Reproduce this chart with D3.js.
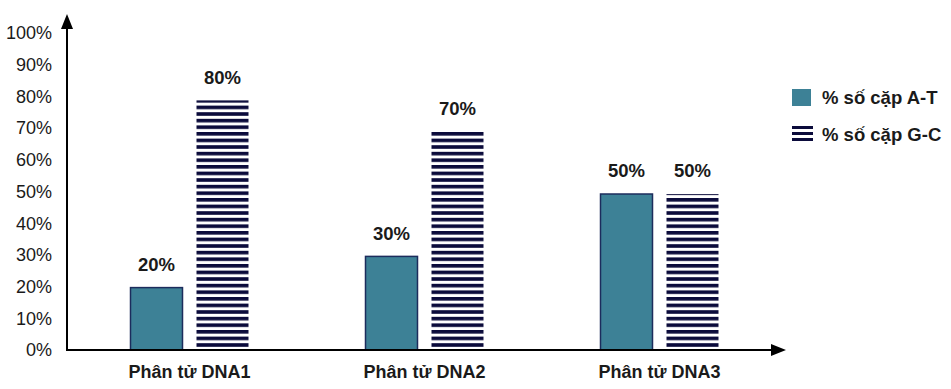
<!DOCTYPE html>
<html>
<head>
<meta charset="utf-8">
<script src="https://cdn.jsdelivr.net/npm/d3@7"></script>
<style>
  body { margin: 0; background: #fff; }
  svg { display: block; font-family: "Liberation Sans", Arial, sans-serif; }
</style>
</head>
<body>
<div id="chart"></div>
<script>
// dữ liệu
const categories = ['Phân tử DNA1', 'Phân tử DNA2', 'Phân tử DNA3'];
const seriesNames = ['% số cặp A-T', '% số cặp G-C'];
const atValues = [20, 30, 50];
const gcValues = [80, 70, 50];
const yTicks = [0, 10, 20, 30, 40, 50, 60, 70, 80, 90, 100];

const width = 951, height = 389;
const teal = '#3d8196';
const navy = '#0b0b3b';

const svg = d3.select('#chart').append('svg')
    .attr('width', width)
    .attr('height', height);

const defs = svg.append('defs');
const pat = defs.append('pattern')
    .attr('id', 'stripes')
    .attr('patternUnits', 'userSpaceOnUse')
    .attr('width', 10)
    .attr('height', 6.6);
pat.append('rect').attr('width', 10).attr('height', 6.6).attr('fill', '#fff');
pat.append('rect').attr('y', 0).attr('width', 10).attr('height', 3.6).attr('fill', navy);

const x0 = d3.scaleBand().domain(categories).range([72, 777]);
const x1 = d3.scaleBand().domain(seriesNames).range([x0.bandwidth() / 2 - 59, x0.bandwidth() / 2 + 59]).paddingInner(0.212);
const y = d3.scaleLinear().domain([0, 100]).range([350, 38]);
const yLabel = d3.scaleLinear().domain([0, 100]).range([350, 33]);

// nhãn trục tung
svg.append('g').selectAll('text')
    .data(yTicks)
    .join('text')
    .attr('x', 52)
    .attr('y', d => yLabel(d))
    .attr('dy', '0.35em')
    .attr('text-anchor', 'end')
    .attr('font-size', 18)
    .attr('fill', '#1a1a1a')
    .text(d => d + '%');

// cột
const groups = svg.append('g').selectAll('g')
    .data(categories)
    .join('g')
    .attr('transform', d => `translate(${x0(d)},0)`);

groups.append('rect')
    .attr('x', x1(seriesNames[0]))
    .attr('width', x1.bandwidth())
    .attr('y', (d, i) => y(atValues[i]))
    .attr('height', (d, i) => y(0) - y(atValues[i]))
    .attr('fill', teal)
    .attr('stroke', '#1c2c5c')
    .attr('stroke-width', 1.5);

groups.append('rect')
    .attr('x', x1(seriesNames[1]))
    .attr('width', x1.bandwidth())
    .attr('y', (d, i) => y(gcValues[i]))
    .attr('height', (d, i) => y(0) - y(gcValues[i]))
    .attr('fill', 'url(#stripes)');

// nhãn giá trị
groups.append('text')
    .attr('x', x1(seriesNames[0]) + x1.bandwidth() / 2)
    .attr('y', (d, i) => y(atValues[i]) - 23)
    .attr('dy', '0.35em')
    .attr('text-anchor', 'middle')
    .attr('font-size', 18.5)
    .attr('font-weight', 'bold')
    .attr('fill', '#1a1a1a')
    .text((d, i) => atValues[i] + '%');

groups.append('text')
    .attr('x', x1(seriesNames[1]) + x1.bandwidth() / 2)
    .attr('y', (d, i) => y(gcValues[i]) - 23)
    .attr('dy', '0.35em')
    .attr('text-anchor', 'middle')
    .attr('font-size', 18.5)
    .attr('font-weight', 'bold')
    .attr('fill', '#1a1a1a')
    .text((d, i) => gcValues[i] + '%');

// nhãn trục hoành
groups.append('text')
    .attr('x', x0.bandwidth() / 2)
    .attr('y', 372)
    .attr('dy', '0.35em')
    .attr('text-anchor', 'middle')
    .attr('font-size', 18)
    .attr('font-weight', 'bold')
    .attr('fill', '#1a1a1a')
    .text(d => d);

// trục
const axisY = y(0);
svg.append('line')
    .attr('x1', 67).attr('y1', axisY + 1)
    .attr('x2', 67).attr('y2', 26)
    .attr('stroke', '#000').attr('stroke-width', 2);
svg.append('path')
    .attr('d', 'M67,14 L61,29 L73,29 Z')
    .attr('fill', '#000');
svg.append('line')
    .attr('x1', 66).attr('y1', axisY)
    .attr('x2', 774).attr('y2', axisY)
    .attr('stroke', '#000').attr('stroke-width', 2);
svg.append('path')
    .attr('d', `M786,${axisY} L771,${axisY - 6} L771,${axisY + 6} Z`)
    .attr('fill', '#000');

// chú giải
const legend = svg.append('g').attr('transform', 'translate(792,89)');
legend.append('rect')
    .attr('x', 0).attr('y', 0)
    .attr('width', 19).attr('height', 17)
    .attr('fill', teal);
[0, 1, 2].forEach(k => {
    legend.append('rect')
        .attr('x', 0).attr('y', 37 + k * 6)
        .attr('width', 21).attr('height', 3)
        .attr('fill', navy);
});
legend.selectAll('text.lg')
    .data(seriesNames)
    .join('text')
    .attr('class', 'lg')
    .attr('x', 30)
    .attr('y', (d, i) => 9 + i * 37)
    .attr('dy', '0.35em')
    .attr('font-size', 18.5)
    .attr('font-weight', 'bold')
    .attr('fill', '#1a1a1a')
    .text(d => d);
</script>
</body>
</html>
